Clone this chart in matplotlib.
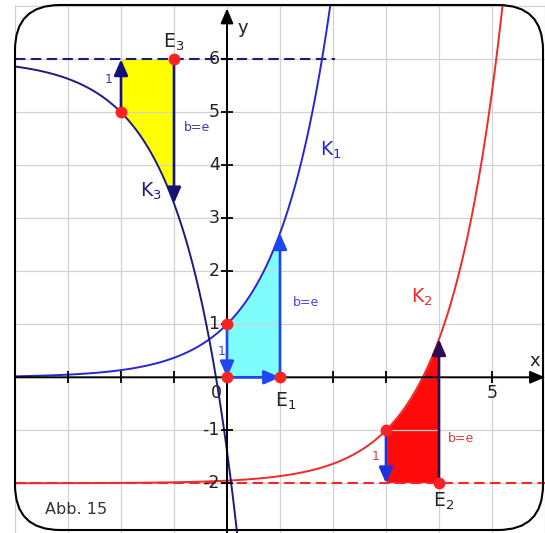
import numpy as np
import matplotlib
matplotlib.use('Agg')
import matplotlib.pyplot as plt
from matplotlib.patches import FancyBboxPatch
from matplotlib.transforms import IdentityTransform

plt.rcParams['font.family'] = ['DejaVu Sans']
plt.rcParams['mathtext.default'] = 'regular'

# ---------------- data ----------------
x_limits = (-4.0, 6.0)
y_limits = (-2.938, 7.025)
grid_x = list(range(-4, 7))
grid_y = list(range(-2, 8))
x_tick_marks = [-3, -2, -1, 1, 2, 3, 4, 5]
y_tick_marks = [-2, -1, 1, 2, 3, 4, 5, 6]
x_tick_labels = {0: '0', 5: '5'}
y_tick_labels = {-2: '-2', -1: '-1', 1: '1', 2: '2', 3: '3', 4: '4', 5: '5', 6: '6'}

# curves: y = sign * exp(x - shift_x) + shift_y
curve_names = ['K$_1$', 'K$_2$', 'K$_3$']
curve_shift_x = [0, 3, -2]
curve_shift_y = [0, -2, 6]
curve_sign = [1, 1, -1]
curve_colors = ['#2727d2', '#ee2a2a', '#1c1c7c']

# shaded regions (x from, x to, asymptote)
region_x0 = [0, 3, -2]
region_x1 = [1, 4, -1]
region_colors = ['#7ffcfc', '#ff0a0a', '#ffff00']

# marked points
point_x = [-2, -1, 0, 0, 1, 3, 4]
point_y = [5, 6, 1, 0, 0, -1, -2]


def curve(i, x):
    return curve_sign[i] * np.exp(x - curve_shift_x[i]) + curve_shift_y[i]


# ---------------- figure ----------------
fig = plt.figure(figsize=(5.45, 5.33), dpi=100)
ax = fig.add_axes([15 / 545, 0, 530 / 545, 528 / 533])
ax.set_xlim(*x_limits)
ax.set_ylim(*y_limits)
for s in ax.spines.values():
    s.set_visible(False)
ax.set_xticks(grid_x)
ax.set_yticks(grid_y)
ax.tick_params(length=0, labelbottom=False, labelleft=False)
ax.grid(True, color='#d2d2d2', lw=0.9, zorder=2)
ax.set_axisbelow(False)

# fills
for i, (a, b, c) in enumerate(zip(region_x0, region_x1, region_colors)):
    xs = np.linspace(a, b, 200)
    ax.fill_between(xs, curve(i, xs), curve_shift_y[i], color=c, lw=0, zorder=1)

# asymptotes (dashed)
ax.plot([-4.0, 2.03], [curve_shift_y[2]] * 2, color='#1c1c7c', lw=1.5,
        ls=(0, (5, 2.6)), zorder=3)
ax.plot([-4.0, 6.0], [curve_shift_y[1]] * 2, color='#ee2a2a', lw=1.5,
        ls=(0, (5, 2.6)), zorder=3)

# axes with arrows
axis_arrow = dict(arrowstyle='-|>,head_length=0.75,head_width=0.32', color='black',
                  lw=1.4, mutation_scale=12, shrinkA=0, shrinkB=0)
ax.annotate('', xy=(6.0, 0), xytext=(-4.0, 0), arrowprops=axis_arrow, zorder=4)
ax.annotate('', xy=(0, 6.96), xytext=(0, y_limits[0]), arrowprops=axis_arrow, zorder=4)
ax.plot(x_tick_marks, [0] * len(x_tick_marks), ls='none', marker='|', ms=9, mew=1.3,
        color='black', zorder=4)
ax.plot([0] * len(y_tick_marks), y_tick_marks, ls='none', marker='_', ms=9, mew=1.3,
        color='black', zorder=4)

# tick labels
for v, t in x_tick_labels.items():
    xx = v - 0.2 if v == 0 else v
    ax.text(xx, -0.3, t, ha='center', va='center', fontsize=12.5, color='#222222', zorder=5)
for v, t in y_tick_labels.items():
    ax.text(-0.14, v, t, ha='right', va='center', fontsize=12.5, color='#222222', zorder=5)
ax.text(5.81, 0.3, 'x', ha='center', va='center', fontsize=13, color='#222222')
ax.text(0.3, 6.6, 'y', ha='center', va='center', fontsize=13, color='#222222')

# curves
xs = np.linspace(-4.0, 6.0, 2000)
for i in range(3):
    ys = curve(i, xs)
    ys = np.where((ys > 8) | (ys < -4), np.nan, ys)
    ax.plot(xs, ys, color=curve_colors[i], lw=1.4, zorder=3)

# region arrows
def arrow(p0, p1, color):
    ax.annotate('', xy=p1, xytext=p0,
                arrowprops=dict(arrowstyle='-|>,head_length=0.8,head_width=0.35',
                                color=color, lw=1.9, mutation_scale=12,
                                shrinkA=0, shrinkB=0), zorder=6)

arrow((region_x0[2], curve(2, region_x0[2])), (region_x0[2], curve_shift_y[2]), '#12127a')
arrow((region_x1[2], curve_shift_y[2]), (region_x1[2], curve(2, region_x1[2])), '#12127a')
arrow((region_x0[0], curve(0, region_x0[0])), (region_x0[0], 0), '#1e46f5')
arrow((region_x0[0], 0), (region_x1[0], 0), '#1e46f5')
arrow((region_x1[0], 0), (region_x1[0], curve(0, region_x1[0])), '#1e46f5')
arrow((region_x0[1], curve(1, region_x0[1])), (region_x0[1], curve_shift_y[1]), '#1a32e0')
arrow((region_x1[1], curve_shift_y[1]), (region_x1[1], curve(1, region_x1[1])), '#2e0c50')

# points
ax.plot(point_x, point_y, ls='none', marker='o', ms=7.5, color='#ff2222',
        mec='#ff2222', zorder=7)

# labels
ax.text(1.75, 4.19, curve_names[0], fontsize=13.5, color=curve_colors[0], va='baseline')
ax.text(3.48, 1.40, curve_names[1], fontsize=13.5, color=curve_colors[1], va='baseline')
ax.text(-1.64, 3.41, curve_names[2], fontsize=13.5, color=curve_colors[2], va='baseline')
ax.text(-1.21, 6.21, 'E$_3$', fontsize=13.5, color='#222222', va='baseline')
ax.text(0.90, -0.55, 'E$_1$', fontsize=13.5, color='#222222', va='baseline')
ax.text(3.88, -2.44, 'E$_2$', fontsize=13.5, color='#222222', va='baseline')

ax.text(-0.82, 4.72, 'b=e', fontsize=9, color='#3a3aa8', va='center', ha='left')
ax.text(-2.24, 5.61, '1', fontsize=9, color='#3a3aa8', va='center', ha='center')
ax.text(1.24, 1.41, 'b=e', fontsize=9, color='#4444e6', va='center', ha='left')
ax.text(-0.10, 0.48, '1', fontsize=9, color='#4444e6', va='center', ha='center')
ax.text(4.17, -1.15, 'b=e', fontsize=9, color='#e03a3a', va='center', ha='left')
ax.text(2.81, -1.50, '1', fontsize=9, color='#e03a3a', va='center', ha='center')

ax.text(-3.43, -2.5, 'Abb. 15', fontsize=11.5, color='#333333', va='center', ha='left')

# rounded frame
frame = FancyBboxPatch((15, 3), 528, 525, boxstyle='round,pad=0,rounding_size=45',
                       transform=IdentityTransform(), fill=False, lw=1.5,
                       ec='black', zorder=10)
fig.add_artist(frame)

fig.savefig('out.png', dpi=100)
